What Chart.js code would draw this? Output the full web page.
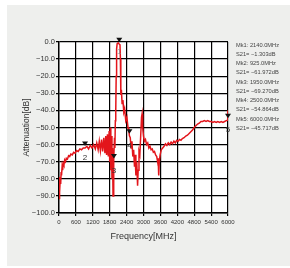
<!DOCTYPE html>
<html>
<head>
<meta charset="utf-8">
<script src="https://cdn.jsdelivr.net/npm/chart.js@4/dist/chart.umd.min.js"></script>
<style>
  html, body { margin: 0; padding: 0; background: #ffffff; }
  #panel { position: absolute; left: 7px; top: 5px; width: 283px; height: 261px; background: #eeefed; }
  canvas { display: block; }
</style>
</head>
<body>
<div id="panel"><canvas id="c" width="283" height="261"></canvas></div>
<script>
// ---- data ----
const freqMHz = [0,10,20,30,45,60,75,90,110,130,150,175,200,230,260,300,340,380,420,470,520,570,620,680,740,800,860,925,990,1050,1110,1170,1230,1290,1340,1390,1430,1470,1510,1550,1590,1630,1660,1690,1720,1750,1780,1800,1820,1840,1860,1880,1900,1918,1935,1950,1970,1985,2000,2015,2030,2045,2065,2100,2140,2165,2180,2195,2215,2240,2270,2300,2330,2370,2410,2450,2480,2500,2530,2560,2590,2620,2650,2680,2700,2730,2760,2790,2810,2840,2870,2900,2930,2950,2970,3000,3030,3070,3110,3150,3190,3230,3270,3310,3350,3390,3430,3470,3500,3520,3540,3560,3590,3630,3680,3730,3780,3830,3880,3930,3980,4030,4080,4130,4180,4230,4280,4330,4380,4440,4500,4560,4620,4680,4740,4800,4860,4920,4980,5040,5100,5160,5220,5280,5340,5400,5460,5520,5580,5640,5700,5760,5820,5880,5940,5980,5990,6000];
const attenuationDb = [-79,-86,-92,-88,-80,-83,-76,-78,-73,-75,-71,-72,-69,-70,-68,-68.5,-66.5,-67,-65.5,-66,-64.5,-65,-63.5,-64,-62.5,-63,-62,-62,-61,-62.5,-60.5,-62,-60,-62.5,-59,-63,-58,-63.5,-57,-64,-56,-65,-55,-66,-54,-67,-52,-70,-50,-75,-55,-80,-62,-90,-70,-69,-56,-62,-46,-40,-20,-4,-1,-0.5,-1.3,-1.5,-10,-31,-28,-36,-34,-41,-39,-46,-44,-50,-52,-54.9,-56,-62,-58,-67,-63,-73,-66,-78,-70,-84,-75,-64,-66,-55,-44,-42,-50,-55,-58,-57,-60,-59,-62,-61,-63,-62.5,-64.5,-64,-66,-67,-70,-68,-78,-70,-66,-63,-62,-61,-59.5,-60.5,-59,-60,-58.5,-59.5,-58,-59,-57.5,-58,-57,-57.5,-56.5,-56,-55,-54.5,-53.5,-52.5,-51.5,-50,-49,-48,-47.5,-46.5,-46.5,-46,-46.5,-46,-46.5,-46.5,-47,-46.5,-47,-46.5,-47,-46.5,-47,-46.5,-46,-45.7,-40,-45.7];
const markerNames = ['1','2','3','4','5'];
const markerFreqMHz = [2140, 925, 1950, 2500, 6000];
const markerDb = [-1.303, -61.972, -69.270, -54.864, -45.717];
const markerFreqText = ['2140.0MHz','925.0MHz','1950.0MHz','2500.0MHz','6000.0MHz'];
const markerDbText = ['\u22121.303dB','\u221261.972dB','\u221269.270dB','\u221254.864dB','\u221245.717dB'];
const xTitle = 'Frequency[MHz]';
const yTitle = 'Attenuation[dB]';

const traceData = freqMHz.map((f, i) => ({ x: f, y: attenuationDb[i] }));
const FONT = '"Liberation Sans", Arial, sans-serif';

const bgPlugin = {
  id: 'plotBg',
  beforeDraw(chart) {
    const { ctx, chartArea: a } = chart;
    ctx.save();
    ctx.fillStyle = '#ffffff';
    ctx.fillRect(a.left, a.top, a.right - a.left, a.bottom - a.top);
    ctx.restore();
  }
};

const markerPlugin = {
  id: 'markers',
  afterDatasetsDraw(chart) {
    const { ctx } = chart;
    const xs = chart.scales.x, ys = chart.scales.y;
    ctx.save();
    for (let i = 0; i < markerFreqMHz.length; i++) {
      const px = xs.getPixelForValue(markerFreqMHz[i]);
      const py = ys.getPixelForValue(markerDb[i]) - 2;
      ctx.fillStyle = '#111111';
      ctx.beginPath();
      ctx.moveTo(px, py);
      ctx.lineTo(px - 3, py - 4.5);
      ctx.lineTo(px + 3, py - 4.5);
      ctx.closePath();
      ctx.fill();
      ctx.fillStyle = i === 0 ? '#888888' : '#333333';
      ctx.font = '8px ' + FONT;
      ctx.textAlign = 'center';
      ctx.textBaseline = 'middle';
      ctx.fillText(markerNames[i], px, py + (i === 0 ? 10 : 12));
    }
    // readout
    ctx.fillStyle = '#444444';
    ctx.font = '5.7px ' + FONT;
    ctx.textAlign = 'left';
    ctx.textBaseline = 'middle';
    const x0 = 229, y0 = 40;
    for (let i = 0; i < markerNames.length; i++) {
      ctx.fillText('Mk' + markerNames[i] + ': ' + markerFreqText[i], x0, y0 + (2 * i) * 9.25);
      ctx.fillText('S21= ' + markerDbText[i], x0, y0 + (2 * i + 1) * 9.25);
    }
    ctx.restore();
  }
};

new Chart(document.getElementById('c'), {
  type: 'line',
  data: {
    datasets: [{
      data: traceData,
      borderColor: '#e3151b',
      borderWidth: 1.5,
      pointRadius: 0,
      tension: 0,
      fill: false
    }]
  },
  options: {
    responsive: false,
    animation: false,
    devicePixelRatio: 1,
    layout: { padding: { left: 0, top: 37, right: 62, bottom: 0 } },
    plugins: { legend: { display: false }, tooltip: { enabled: false } },
    scales: {
      x: {
        type: 'linear',
        min: 0, max: 6000,
        afterFit(s) { s.height = 53; },
        ticks: {
          stepSize: 600,
          maxRotation: 0,
          autoSkip: false,
          padding: 3,
          color: '#333333',
          font: { family: FONT, size: 6 },
          callback: v => String(v)
        },
        grid: { color: '#000000', lineWidth: 1.2, tickLength: 3, tickColor: '#000000' },
        border: { color: '#000000', width: 1.4 },
        title: {
          display: true, text: xTitle, color: '#333333',
          font: { family: FONT, size: 9 },
          padding: { top: 0, bottom: 24 }
        }
      },
      y: {
        type: 'linear',
        min: -100, max: 0,
        afterFit(s) { s.width = 52; },
        ticks: {
          stepSize: 10,
          padding: 1,
          color: '#333333',
          font: { family: FONT, size: 7.5 },
          callback: v => v === 0 ? '0.0' : '\u2212' + Math.abs(v).toFixed(1)
        },
        grid: { color: '#000000', lineWidth: 1.2, tickLength: 3, tickColor: '#000000' },
        border: { color: '#000000', width: 1.4 },
        title: {
          display: true, text: yTitle, color: '#333333',
          font: { family: FONT, size: 8.5 },
          padding: { top: 15, bottom: 0 }
        }
      }
    }
  },
  plugins: [bgPlugin, markerPlugin]
});
</script>
</body>
</html>
